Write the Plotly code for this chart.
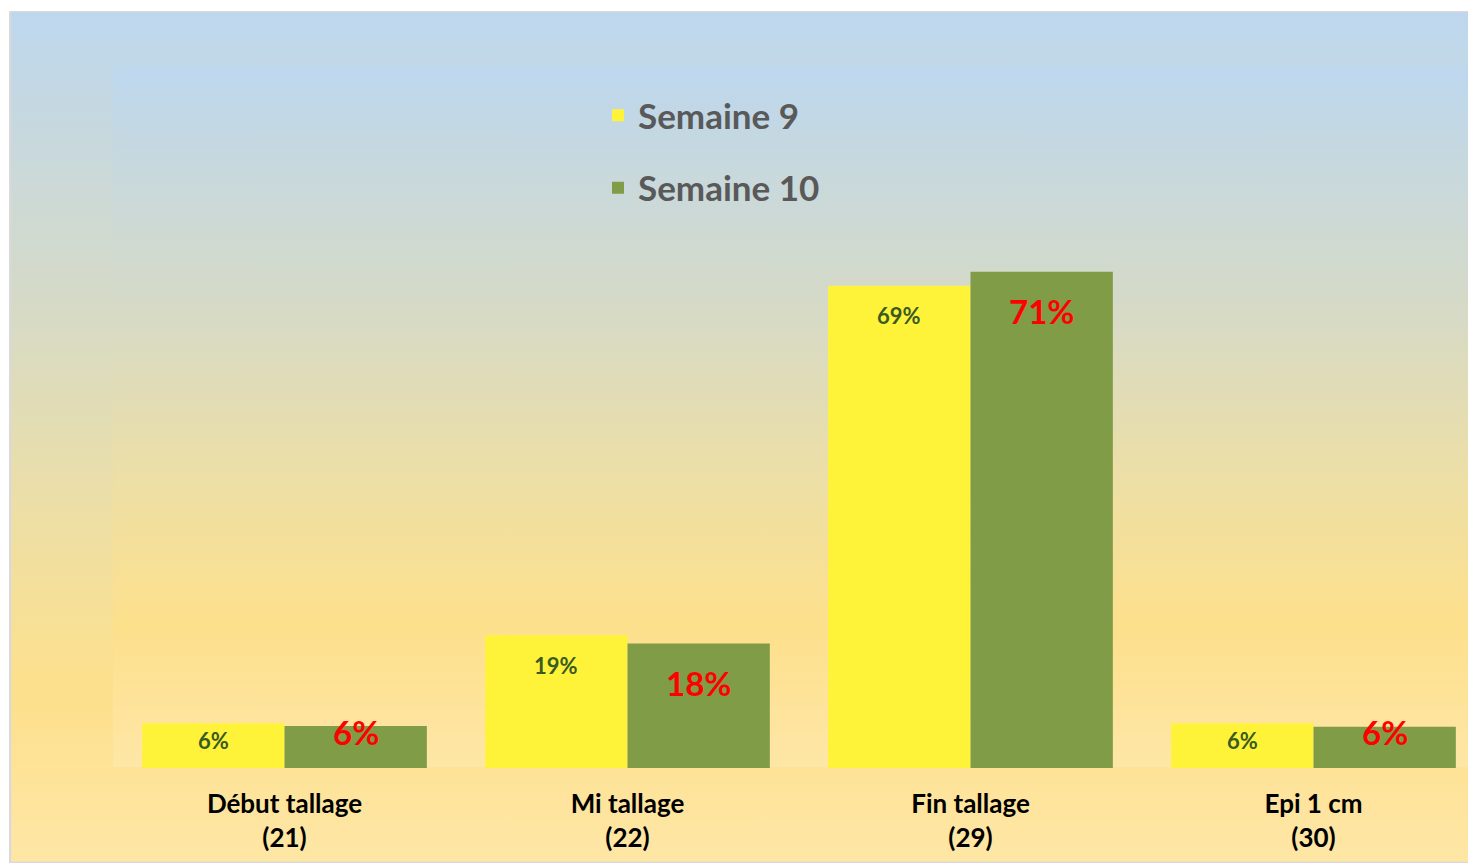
import base64
import plotly.graph_objects as go

# ---- data ----
categories = ["Début tallage<br>(21)", "Mi tallage<br>(22)", "Fin tallage<br>(29)", "Epi 1 cm<br>(30)"]
semaine9 = [6.4, 19.0, 69.0, 6.4]
semaine10 = [6.0, 17.8, 71.0, 5.9]
labels9 = ["6%", "19%", "69%", "6%"]
labels10 = ["6%", "18%", "71%", "6%"]
series_names = ["Semaine 9", "Semaine 10"]

FONT = "Lato"
OFF = 8  # page body margin

def gradient_svg(stroke=None):
    stops = [(0.0, "#BDD7EE"), (0.35, "#D6DAC6"), (0.6, "#EEDFA4"), (0.8, "#FDE08C"), (1.0, "#FEE6A6")]
    st = "".join(f'<stop offset="{o}" stop-color="{c}"/>' for o, c in stops)
    border = ""
    if stroke:
        border = f'<rect x="0.5" y="0.5" width="999" height="999" fill="none" stroke="{stroke}" stroke-width="2" vector-effect="non-scaling-stroke"/>'
    svg = (
        '<svg xmlns="http://www.w3.org/2000/svg" viewBox="0 0 1000 1000" preserveAspectRatio="none" width="1000" height="1000">'
        f'<defs><linearGradient id="g" x1="0" y1="0" x2="0" y2="1">{st}</linearGradient></defs>'
        '<rect x="0" y="0" width="1000" height="1000" fill="url(#g)"/>' + border + '</svg>'
    )
    return "data:image/svg+xml;base64," + base64.b64encode(svg.encode()).decode()

W, H = 1476 - OFF, 863 - OFF
L, R, T = 113 - OFF, 1, 65 - OFF
BASE = 768 - OFF
B = H - BASE
pw, ph = W - L - R, H - T - B
YMAX = 100.6
BARGAP = 0.17
CAT_PX = 343.0
XSPAN = pw / CAT_PX
px_per_unit = ph / YMAX
bar_px = CAT_PX * (1 - BARGAP) / 2

def px2paper_x(px):
    return (px - OFF - L) / pw

def px2paper_y(py):
    return (BASE - (py - OFF)) / ph

fig = go.Figure()
fig.add_trace(go.Bar(
    x=categories, y=semaine9, name=series_names[0], legendgroup="a",
    marker=dict(color="#FFF33A", line=dict(width=0)),
))
fig.add_trace(go.Bar(
    x=categories, y=semaine10, name=series_names[1], legendgroup="b",
    marker=dict(color="#819C47", line=dict(width=0)),
))

annotations = []
label_styles = [
    (semaine9, labels9, -1, dict(family=FONT, size=22, color="#3A5A22", weight="bold"), 30, 28),
    (semaine10, labels10, 1, dict(family=FONT, size=33, color="#FF0000", weight="bold"), 39, 36),
]
for values, labels, side, font, nominal, k in label_styles:
    for cat, v, lab in zip(categories, values, labels):
        hpx = v * px_per_unit
        offset = min(nominal, hpx - k)
        annotations.append(dict(
            x=cat, y=v, xref="x", yref="y", text=lab, showarrow=False,
            xshift=side * bar_px / 2, yshift=-offset, yanchor="middle", xanchor="center",
            font=font,
        ))

fig.update_layout(
    width=W, height=H,
    margin=dict(l=L, r=R, t=T, b=B, pad=0),
    paper_bgcolor="white",
    plot_bgcolor="rgba(0,0,0,0)",
    barmode="group", bargap=BARGAP, bargroupgap=0,
    showlegend=True,
    legend=dict(
        x=px2paper_x(598), y=px2paper_y(86), xanchor="left", yanchor="top",
        font=dict(family=FONT, size=35, color="#595959", weight="bold"),
        bgcolor="rgba(0,0,0,0)", tracegroupgap=24, traceorder="grouped",
    ),
    xaxis=dict(
        range=[-0.5, -0.5 + XSPAN],
        showgrid=False, zeroline=False, showline=False,
        ticks="outside", ticklen=13, tickcolor="rgba(0,0,0,0)",
        tickfont=dict(family=FONT, size=26, color="#000000", weight="bold"),
    ),
    yaxis=dict(range=[0, YMAX], showgrid=False, zeroline=False, showline=False,
               showticklabels=False, ticks=""),
    annotations=annotations,
    images=[
        dict(source=gradient_svg(stroke="#D9D9D9"), xref="paper", yref="paper",
             x=px2paper_x(9), y=px2paper_y(11),
             sizex=px2paper_x(1476) - px2paper_x(9), sizey=px2paper_y(11) - px2paper_y(863),
             xanchor="left", yanchor="top", sizing="stretch", layer="below"),
        dict(source=gradient_svg(), xref="paper", yref="paper",
             x=0, y=px2paper_y(66), sizex=1, sizey=px2paper_y(66) - px2paper_y(767),
             xanchor="left", yanchor="top", sizing="stretch", layer="below"),
    ],
)

fig.write_html("out.html")
